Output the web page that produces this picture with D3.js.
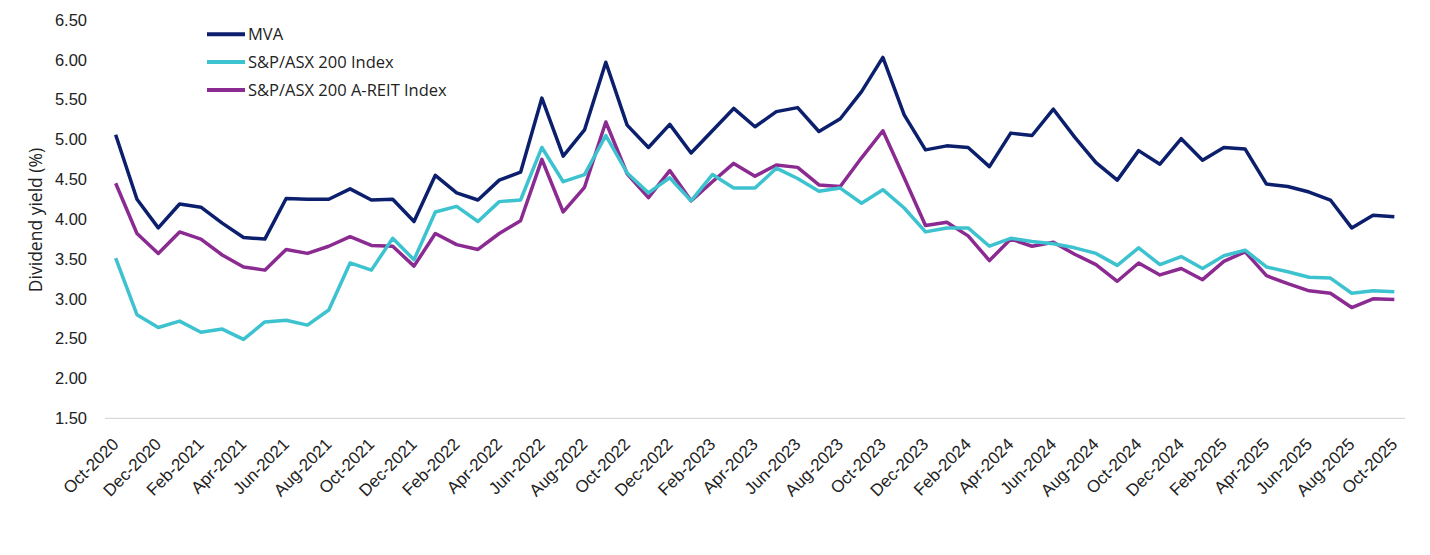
<!DOCTYPE html>
<html>
<head>
<meta charset="utf-8">
<script src="https://cdn.jsdelivr.net/npm/d3@7"></script>
<style>
  html, body { margin: 0; padding: 0; background: #fff; }
  svg { display: block; font-family: 'Open Sans', 'Noto Sans', sans-serif; }
  .tick text { fill: #222; }
</style>
</head>
<body>
<svg id="chart" width="1430" height="555"></svg>
<script>
/* global d3 */
const MONTHS = ['Jan', 'Feb', 'Mar', 'Apr', 'May', 'Jun', 'Jul', 'Aug', 'Sep', 'Oct', 'Nov', 'Dec'];

// monthly observations, Oct-2020 .. Oct-2025
const dates = [];
for (let y = 2020, m = 9; y < 2025 || (y === 2025 && m <= 9); m++) {
  if (m > 11) { m = 0; y++; }
  if (y === 2025 && m > 9) break;
  dates.push(`${MONTHS[m]}-${y}`);
}

const mva = [
  5.06, 4.25, 3.89, 4.19, 4.15, 3.95, 3.77, 3.75, 4.26, 4.25, 4.25, 4.38,
  4.24, 4.25, 3.97, 4.55, 4.33, 4.24, 4.49, 4.59, 5.52, 4.79, 5.12, 5.97,
  5.18, 4.90, 5.19, 4.83, 5.11, 5.39, 5.16, 5.35, 5.40, 5.10, 5.26, 5.60,
  6.03, 5.31, 4.87, 4.92, 4.90, 4.66, 5.08, 5.05, 5.38, 5.03, 4.71, 4.49,
  4.86, 4.69, 5.01, 4.74, 4.90, 4.88, 4.44, 4.41, 4.34, 4.24, 3.89, 4.05,
  4.03,
];

const asx200 = [
  3.51, 2.80, 2.64, 2.72, 2.58, 2.62, 2.49, 2.71, 2.73, 2.67, 2.86, 3.45,
  3.36, 3.76, 3.49, 4.09, 4.16, 3.97, 4.22, 4.24, 4.90, 4.47, 4.56, 5.05,
  4.58, 4.33, 4.52, 4.23, 4.56, 4.39, 4.39, 4.64, 4.51, 4.35, 4.39, 4.20,
  4.37, 4.14, 3.84, 3.89, 3.89, 3.66, 3.76, 3.72, 3.69, 3.64, 3.57, 3.42,
  3.64, 3.43, 3.53, 3.38, 3.54, 3.61, 3.40, 3.34, 3.27, 3.26, 3.07, 3.10,
  3.09,
];

const areit = [
  4.45, 3.82, 3.57, 3.84, 3.75, 3.55, 3.40, 3.36, 3.62, 3.57, 3.66, 3.78,
  3.67, 3.66, 3.41, 3.82, 3.68, 3.62, 3.82, 3.98, 4.75, 4.09, 4.40, 5.22,
  4.57, 4.27, 4.61, 4.23, 4.47, 4.70, 4.54, 4.68, 4.65, 4.43, 4.41, 4.77,
  5.11, 4.52, 3.92, 3.96, 3.79, 3.48, 3.75, 3.66, 3.71, 3.56, 3.43, 3.22,
  3.45, 3.30, 3.38, 3.24, 3.47, 3.59, 3.29, 3.19, 3.10, 3.07, 2.89, 3.00,
  2.99,
];

const yTicks = [1.5, 2, 2.5, 3, 3.5, 4, 4.5, 5, 5.5, 6, 6.5];

const SERIES = [
  { name: 'MVA', values: mva, color: '#0b1f6d' },
  { name: 'S&P/ASX 200 Index', values: asx200, color: '#3dc2cf' },
  { name: 'S&P/ASX 200 A-REIT Index', values: areit, color: '#8b2a91' },
];

const main = () => {
  const svg = d3.select('#chart');
  const left = 105;
  const right = 1405;
  const top = 20;
  const bottom = 418.3;

  const x = d3.scaleBand().domain(dates).range([left, right]).padding(0);
  const y = d3.scaleLinear().domain([1.5, 6.5]).range([bottom, top]);
  const cx = (d) => x(d) + x.bandwidth() / 2;

  // y axis (labels only)
  const yAxis = svg
    .append('g')
    .attr('transform', `translate(${left},0)`)
    .call(d3.axisLeft(y).tickValues(yTicks).tickFormat(d3.format('.2f')).tickSize(0).tickPadding(18));
  yAxis.select('.domain').remove();
  yAxis.selectAll('text').style('font-size', '16.5px');

  // baseline
  svg
    .append('line')
    .attr('x1', left)
    .attr('x2', right)
    .attr('y1', y(1.5))
    .attr('y2', y(1.5))
    .attr('stroke', '#d9d9d9')
    .attr('stroke-width', 1.2);

  // x axis labels every second month
  const xAxis = svg
    .append('g')
    .attr('transform', `translate(0,${bottom})`)
    .call(
      d3
        .axisBottom(x)
        .tickValues(dates.filter((d, i) => i % 2 === 0))
        .tickSize(0)
    );
  xAxis.select('.domain').remove();
  xAxis
    .selectAll('text')
    .style('font-size', '17px')
    .attr('text-anchor', 'end')
    .attr('dy', 0)
    .attr('y', 0)
    .attr('transform', 'translate(4,27) rotate(-45)');

  // y title
  svg
    .append('text')
    .attr('transform', `translate(42,220) rotate(-90)`)
    .attr('text-anchor', 'middle')
    .style('font-size', '17.5px')
    .attr('fill', '#222')
    .text('Dividend yield (%)');

  // lines
  const line = d3
    .line()
    .x((d, i) => cx(dates[i]))
    .y((d) => y(d));

  SERIES.slice()
    .reverse()
    .forEach((s) => {
      svg
        .append('path')
        .datum(s.values)
        .attr('fill', 'none')
        .attr('stroke', s.color)
        .attr('stroke-width', 3.5)
        .attr('stroke-linejoin', 'round')
        .attr('d', line);
    });

  // legend
  const legend = svg.append('g').attr('transform', 'translate(207,34.3)');
  SERIES.forEach((s, i) => {
    const row = legend.append('g').attr('transform', `translate(0,${i * 27.8})`);
    row
      .append('line')
      .attr('x1', 0)
      .attr('x2', 38)
      .attr('stroke', s.color)
      .attr('stroke-width', 4);
    row
      .append('text')
      .attr('x', 41)
      .attr('dy', '0.35em')
      .style('font-size', '16.5px')
      .attr('fill', '#222')
      .text(s.name);
  });
};
main();
</script>
</body>
</html>
